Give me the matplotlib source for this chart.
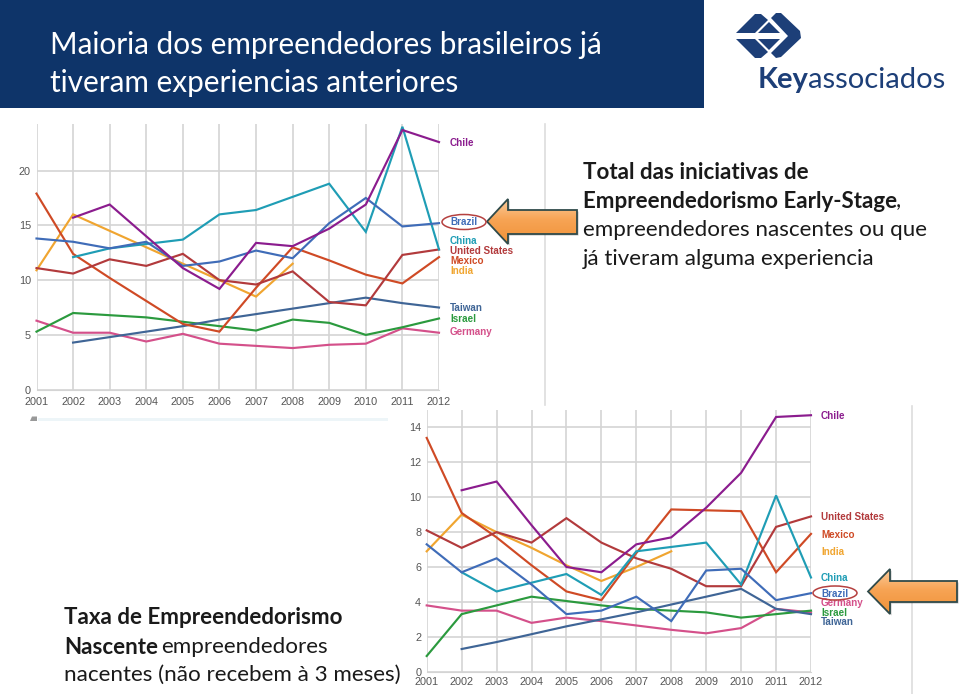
import numpy as np
import matplotlib
matplotlib.use("Agg")
import matplotlib.pyplot as plt
from matplotlib.patches import Polygon, Ellipse, Rectangle

W, H = 960, 694
years = list(range(2001, 2013))
names = ["Chile", "Brazil", "China", "United States", "Mexico", "India", "Taiwan", "Israel", "Germany"]
colors = {"Chile": "#8b1c8e", "Brazil": "#3f6cb8", "China": "#1f9db5", "United States": "#b23a3c",
          "Mexico": "#cf4a25", "India": "#f0a530", "Taiwan": "#3f6596", "Israel": "#2b9a3e", "Germany": "#d4508a"}
N = None
top_chile = [N, 15.7, 16.9, 14.0, 11.1, 9.2, 13.4, 13.1, 14.7, 16.9, 23.7, 22.6]
top_brazil = [13.8, 13.5, 12.9, 13.5, 11.3, 11.7, 12.7, 12.0, 15.2, 17.5, 14.9, 15.2]
top_china = [N, 12.1, 12.9, 13.3, 13.7, 16.0, 16.4, 17.6, 18.8, 14.4, 24.0, 12.8]
top_us = [11.1, 10.6, 11.9, 11.3, 12.4, 10.0, 9.6, 10.8, 8.0, 7.7, 12.3, 12.8]
top_mexico = [17.9, 12.4, 10.2, 8.1, 6.0, 5.3, 9.3, 13.0, 11.8, 10.5, 9.7, 12.1]
top_india = [10.9, 16.0, 14.5, 13.0, 11.5, 10.0, 8.5, 11.5, N, N, N, N]
top_taiwan = [N, 4.3, 4.8, 5.3, 5.8, 6.4, 6.9, 7.4, 7.9, 8.4, 7.9, 7.5]
top_israel = [5.3, 7.0, 6.8, 6.6, 6.2, 5.8, 5.4, 6.4, 6.1, 5.0, 5.7, 6.5]
top_germany = [6.3, 5.2, 5.2, 4.4, 5.1, 4.2, 4.0, 3.8, 4.1, 4.2, 5.6, 5.2]

bot_chile = [N, 10.4, 10.9, 8.4, 6.0, 5.7, 7.3, 7.7, 9.4, 11.4, 14.6, 14.7]
bot_brazil = [7.3, 5.7, 6.5, 5.0, 3.3, 3.5, 4.3, 2.9, 5.8, 5.9, 4.1, 4.5]
bot_china = [N, 5.7, 4.6, 5.1, 5.6, 4.4, 6.9, 7.15, 7.4, 5.0, 10.1, 5.4]
bot_us = [8.1, 7.1, 8.0, 7.4, 8.8, 7.4, 6.5, 5.9, 4.9, 4.9, 8.3, 8.9]
bot_mexico = [13.4, 9.1, 7.7, 6.1, 4.6, 4.1, 6.8, 9.3, 9.25, 9.2, 5.7, 7.9]
bot_india = [6.9, 9.0, 8.0, 7.1, 6.1, 5.2, 6.0, 6.9, N, N, N, N]
bot_taiwan = [N, 1.3, 1.7, 2.15, 2.6, 3.0, 3.4, 3.85, 4.3, 4.75, 3.6, 3.3]
bot_israel = [0.9, 3.3, 3.8, 4.3, 4.05, 3.8, 3.6, 3.5, 3.4, 3.1, 3.3, 3.5]
bot_germany = [3.8, 3.5, 3.5, 2.8, 3.1, 2.9, 2.65, 2.4, 2.2, 2.5, 3.6, 3.4]

top_series = dict(zip(names, [top_chile, top_brazil, top_china, top_us, top_mexico, top_india, top_taiwan, top_israel, top_germany]))
bot_series = dict(zip(names, [bot_chile, bot_brazil, bot_china, bot_us, bot_mexico, bot_india, bot_taiwan, bot_israel, bot_germany]))
top_draw = ["Germany", "Israel", "Taiwan", "India", "Mexico", "United States", "China", "Brazil", "Chile"]
top_labels = {"Chile": 143, "Brazil": 222, "China": 241, "United States": 251, "Mexico": 261, "India": 271,
              "Taiwan": 308, "Israel": 319, "Germany": 332}
bot_labels = {"Chile": 416, "United States": 517, "Mexico": 535, "India": 552, "China": 578, "Germany": 603,
              "Brazil": 594, "Israel": 613, "Taiwan": 622}

fig = plt.figure(figsize=(9.6, 6.94), dpi=100, facecolor="white")
ov = fig.add_axes([0, 0, 1, 1], zorder=5)
ov.set_xlim(0, W); ov.set_ylim(H, 0); ov.axis("off"); ov.patch.set_alpha(0)
ARIAL = "Liberation Sans"; BODY = "Lato"


def chart(series, x0, x1, y_bottom, y_top, ymax, yticks, labels, xlab_pad, lab_gap):
    ax = fig.add_axes([x0 / W, 1 - y_bottom / H, (x1 - x0) / W, (y_bottom - y_top) / H], zorder=2)
    ax.set_xlim(2001, 2012); ax.set_ylim(0, ymax)
    ax.set_xticks(years); ax.set_yticks(yticks)
    ax.grid(True, color="#d4d4d4", lw=1.2)
    ax.set_axisbelow(True)
    for s in ax.spines.values():
        s.set_visible(False)
    ax.spines["bottom"].set_visible(True); ax.spines["bottom"].set_color("#d4d4d4")
    ax.tick_params(length=0, labelsize=7.8, labelcolor="#555555", pad=4)
    ax.tick_params(axis="x", pad=xlab_pad)
    for lab in ax.get_xticklabels() + ax.get_yticklabels():
        lab.set_fontfamily(ARIAL)
    for nm in top_draw:
        v = np.array([np.nan if a is None else a for a in series[nm]], float)
        ax.plot(years, v, color=colors[nm], lw=1.55, clip_on=False, solid_joinstyle="miter")
    for nm, y in labels.items():
        ov.text(x1 + lab_gap, y, nm, color=colors[nm], fontsize=7.1, fontweight="bold", family=ARIAL, va="center", ha="left")
    return ax


chart(top_series, 36.5, 439, 389.7, 124, 24.25, [0, 5, 10, 15, 20], top_labels, 5, 11)
chart(bot_series, 426.7, 811, 671.7, 410, 15.0, [0, 2, 4, 6, 8, 10, 12, 14], bot_labels, 4, 10)

# header
ov.add_patch(Rectangle((0, 0), 704, 108, fc="#0e3469", ec="none"))
ov.text(50, 44.5, "Maioria dos empreendedores brasileiros já", color="white", fontsize=21.4, family=BODY, va="center")
ov.text(50, 82.5, "tiveram experiencias anteriores", color="white", fontsize=21.4, family=BODY, va="center")

# outer frame lines of the screenshots
ov.plot([545, 545], [124, 405], color="#dddddd", lw=1.2)
ov.plot([912, 912], [406, 694], color="#dddddd", lw=1.2)
ov.add_patch(Rectangle((38, 418), 350, 3, fc="#edf5f8", ec="none"))
ov.add_patch(Polygon([(30, 421), (32, 416.5), (37, 416.5), (37, 421)], fc="#999999", ec="none"))

# right text
tc = "#1a1a1a"
FS = 16.1
ov.text(583, 172, "Total das iniciativas de", color=tc, fontsize=FS, family=BODY, fontweight="bold", va="center")
ov.text(583, 201, "Empreendedorismo Early-Stage", color=tc, fontsize=FS, family=BODY, fontweight="bold", va="center")
ov.text(896, 201, ",", color=tc, fontsize=FS, family=BODY, va="center")
ov.text(583, 230, "empreendedores nascentes ou que", color=tc, fontsize=FS, family=BODY, va="center")
ov.text(583, 259, "já tiveram alguma experiencia", color=tc, fontsize=FS, family=BODY, va="center")

ov.text(64, 618, "Taxa de Empreendedorismo", color=tc, fontsize=FS, family=BODY, fontweight="bold", va="center")
ov.text(64, 647, "Nascente", color=tc, fontsize=FS, family=BODY, fontweight="bold", va="center")
ov.text(161, 647, "empreendedores", color=tc, fontsize=FS, family=BODY, va="center")
ov.text(64, 675, "nacentes (não recebem à 3 meses)", color=tc, fontsize=FS, family=BODY, va="center")


# arrows
def arrow(tip, base, right, ytop, ybot, stop, sbot):
    ym = (ytop + ybot) / 2
    pts = [(tip, ym), (base, ytop), (base, stop), (right, stop), (right, sbot), (base, sbot), (base, ybot)]
    ov.add_patch(Polygon([(x + 1.5, y + 1.5) for x, y in pts], fc="#00000040", ec="none", zorder=3))
    t = np.linspace(0, 1, 64)
    c0 = np.array([0xfa, 0xcb, 0x9c]); c1 = np.array([0xf7, 0xa4, 0x55]); c2 = np.array([0xf0, 0x92, 0x38])
    rows = [c0 + (c1 - c0) * (a / .45) if a < .45 else c1 + (c2 - c1) * ((a - .45) / .55) for a in t]
    img = np.array(rows)[:, None, :] / 255
    im = ov.imshow(img, extent=(tip, right, ybot, ytop), aspect="auto", zorder=4)
    poly = Polygon(pts, fc="none", ec="#2f4a4a", lw=1.3, zorder=5, joinstyle="miter")
    ov.add_patch(poly)
    im.set_clip_path(poly)


arrow(487, 508, 577, 199, 244, 210, 234)
arrow(868, 890, 957, 569, 614, 581, 602)
ov.set_xlim(0, W); ov.set_ylim(H, 0)
ov.add_patch(Ellipse((464, 222), 44, 15, fc="none", ec="#b5403f", lw=1.1, zorder=6))
ov.add_patch(Ellipse((835, 593), 44, 14, fc="none", ec="#b5403f", lw=1.1, zorder=6))

# logo
lc = "#1d3f78"
for pts in [
    [(736, 33), (755, 14), (761, 14), (768, 20), (755, 33)],
    [(758, 33), (769, 22), (780, 33)],
    [(736, 39), (755, 39), (768, 52), (761, 58), (755, 58)],
    [(758, 39), (780, 39), (769, 50)],
    [(771, 18), (776, 13), (781, 13), (800, 31), (801, 38), (781, 57), (776, 58), (771, 53), (788, 36)],
]:
    ov.add_patch(Polygon(pts, fc=lc, ec="none", zorder=6))
ov.text(758, 88, "Key", color=lc, fontsize=21, family=BODY, fontweight="bold", va="baseline", zorder=6)
ov.text(808, 88, "associados", color=lc, fontsize=21, family=BODY, va="baseline", zorder=6)

fig.savefig("out.png", dpi=100, facecolor="white")
